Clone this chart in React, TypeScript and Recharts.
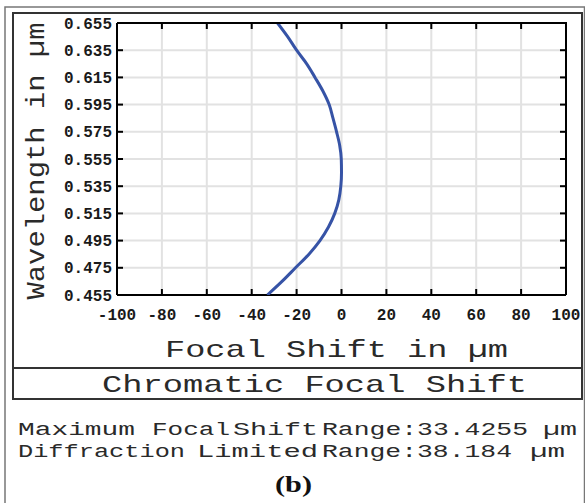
import React from "react";
import {
  ScatterChart,
  Scatter,
  XAxis,
  YAxis,
  ReferenceLine,
} from "recharts";

const wavelengths = [
  0.455, 0.465, 0.475, 0.485, 0.495, 0.505, 0.515, 0.525, 0.535, 0.545, 0.555,
  0.565, 0.575, 0.585, 0.595, 0.605, 0.615, 0.625, 0.635, 0.645, 0.655,
];
const focalShift = [
  -33, -26.5, -20.5, -14.5, -9.6, -5.8, -3.0, -1.2, -0.3, 0, -0.1, -0.8, -2.2,
  -3.8, -5.5, -8.3, -11.8, -15.5, -20, -24, -28.5,
];
const xTicks = [-100, -80, -60, -40, -20, 0, 20, 40, 60, 80, 100];
const yTicks = [
  0.455, 0.475, 0.495, 0.515, 0.535, 0.555, 0.575, 0.595, 0.615, 0.635, 0.655,
];

const points = wavelengths.map((wl, i) => ({ wl, shift: focalShift[i] }));

const W = 585;
const H = 503;
const M = { top: 23, right: 19, bottom: 178, left: 0 };
const Y_AXIS_W = 117;
const X_AXIS_H = 30;
const PLOT_W = W - M.left - M.right - Y_AXIS_W;
const PLOT_H = H - M.top - M.bottom - X_AXIS_H;
const TICK = 6;
const X_MARGIN = 20;
const Y_MARGIN = 11;

const mono = "'Liberation Mono', 'DejaVu Sans Mono', monospace";
const axisStroke = { stroke: "#000", strokeWidth: 2 };
const gridColor = "#e2e2e2";

// bottom tick label + the matching inward tick on the top frame
function XTick(props: any) {
  const { x, y, payload } = props;
  const axisY = y - X_MARGIN + TICK;
  const top = axisY - PLOT_H;
  return (
    <g>
      <line x1={x} y1={top} x2={x} y2={top + TICK} stroke="#000" strokeWidth={2} />
      <text
        x={x}
        y={y}
        dy="0.71em"
        textAnchor="middle"
        fontFamily={mono}
        fontSize={16}
        fontWeight={700}
        fill="#1a1a1a"
      >
        {payload.value}
      </text>
    </g>
  );
}

// left tick label + the matching inward tick on the right frame
function YTick(props: any) {
  const { x, y, payload } = props;
  const axisX = x + Y_MARGIN - TICK;
  const right = axisX + PLOT_W;
  return (
    <g>
      <line x1={right} y1={y} x2={right - TICK} y2={y} stroke="#000" strokeWidth={2} />
      <text
        x={x}
        y={y}
        dy="0.355em"
        textAnchor="end"
        fontFamily={mono}
        fontSize={16}
        fontWeight={700}
        fill="#1a1a1a"
      >
        {Number(payload.value).toFixed(3)}
      </text>
    </g>
  );
}

export default function App() {
  const plotLeft = M.left + Y_AXIS_W;
  return (
    <div style={{ position: "absolute", left: 0, top: 0, width: W, height: H, background: "#fff" }}>
      <ScatterChart width={W} height={H} margin={M}>
        <XAxis
          type="number"
          dataKey="shift"
          domain={[-100, 100]}
          ticks={xTicks}
          interval={0}
          allowDataOverflow
          height={X_AXIS_H}
          tickSize={-TICK}
          tickMargin={X_MARGIN}
          axisLine={axisStroke}
          tickLine={axisStroke}
          tick={<XTick />}
        />
        <YAxis
          type="number"
          dataKey="wl"
          domain={[0.455, 0.655]}
          ticks={yTicks}
          interval={0}
          allowDataOverflow
          width={Y_AXIS_W}
          tickSize={-TICK}
          tickMargin={Y_MARGIN}
          axisLine={axisStroke}
          tickLine={axisStroke}
          tick={<YTick />}
        />
        {xTicks.slice(1, -1).map((t) => (
          <ReferenceLine key={"gx" + t} x={t} stroke={gridColor} strokeWidth={2} ifOverflow="visible" />
        ))}
        {yTicks.slice(1, -1).map((t) => (
          <ReferenceLine key={"gy" + t} y={t} stroke={gridColor} strokeWidth={2} ifOverflow="visible" />
        ))}
        <Scatter
          data={points}
          line={{ stroke: "#3653a6", strokeWidth: 3 }}
          lineJointType="monotoneY"
          shape={() => <g />}
          isAnimationActive={false}
        />
      </ScatterChart>
      <svg
        width={W}
        height={H}
        style={{ position: "absolute", left: 0, top: 0, pointerEvents: "none" }}
      >
        {/* top and right edges of the plot frame */}
        <polyline
          points={`${plotLeft},${M.top} ${plotLeft + PLOT_W},${M.top} ${plotLeft + PLOT_W},${M.top + PLOT_H}`}
          fill="none"
          stroke="#000"
          strokeWidth={2}
        />
        <rect x={5} y={7} width={579.5} height={520} fill="none" stroke="#777" strokeWidth={1.5} />
        <rect x={13} y={13} width={569} height={386} fill="none" stroke="#333" strokeWidth={2} />
        <line x1={13} y1={368} x2={582} y2={368} stroke="#333" strokeWidth={2} />
        <text
          transform="translate(44,161) rotate(-90)"
          textAnchor="middle"
          fontFamily={mono}
          fontSize={25}
          fill="#2a2a2a"
          textLength={277}
          lengthAdjust="spacingAndGlyphs"
        >
          Wavelength in µm
        </text>
        <text x={165} y={357} fontFamily={mono} fontSize={24} fill="#2a2a2a" textLength={343} lengthAdjust="spacingAndGlyphs">
          Focal Shift in µm
        </text>
        <text x={102} y={392} fontFamily={mono} fontSize={24} fill="#2a2a2a" textLength={425} lengthAdjust="spacingAndGlyphs">
          Chromatic Focal Shift
        </text>
        <g fontFamily={mono} fontSize={18} fill="#2a2a2a">
          <text x={18} y={435} textLength={117} lengthAdjust="spacingAndGlyphs">Maximum</text>
          <text x={152} y={435} textLength={78} lengthAdjust="spacingAndGlyphs">Focal</text>
          <text x={233} y={435} textLength={85} lengthAdjust="spacingAndGlyphs">Shift</text>
          <text x={322} y={435} textLength={206} lengthAdjust="spacingAndGlyphs">Range:33.4255</text>
          <text x={543} y={435} textLength={34} lengthAdjust="spacingAndGlyphs">µm</text>
          <text x={18} y={457} textLength={167} lengthAdjust="spacingAndGlyphs">Diffraction</text>
          <text x={197} y={457} textLength={121} lengthAdjust="spacingAndGlyphs">Limited</text>
          <text x={322} y={457} textLength={190} lengthAdjust="spacingAndGlyphs">Range:38.184</text>
          <text x={530} y={457} textLength={35} lengthAdjust="spacingAndGlyphs">µm</text>
        </g>
        <text
          x={275}
          y={492}
          fontFamily="'Liberation Serif', 'DejaVu Serif', serif"
          fontWeight={700}
          fontSize={23}
          fill="#111"
          textLength={37}
          lengthAdjust="spacingAndGlyphs"
        >
          (b)
        </text>
      </svg>
    </div>
  );
}
